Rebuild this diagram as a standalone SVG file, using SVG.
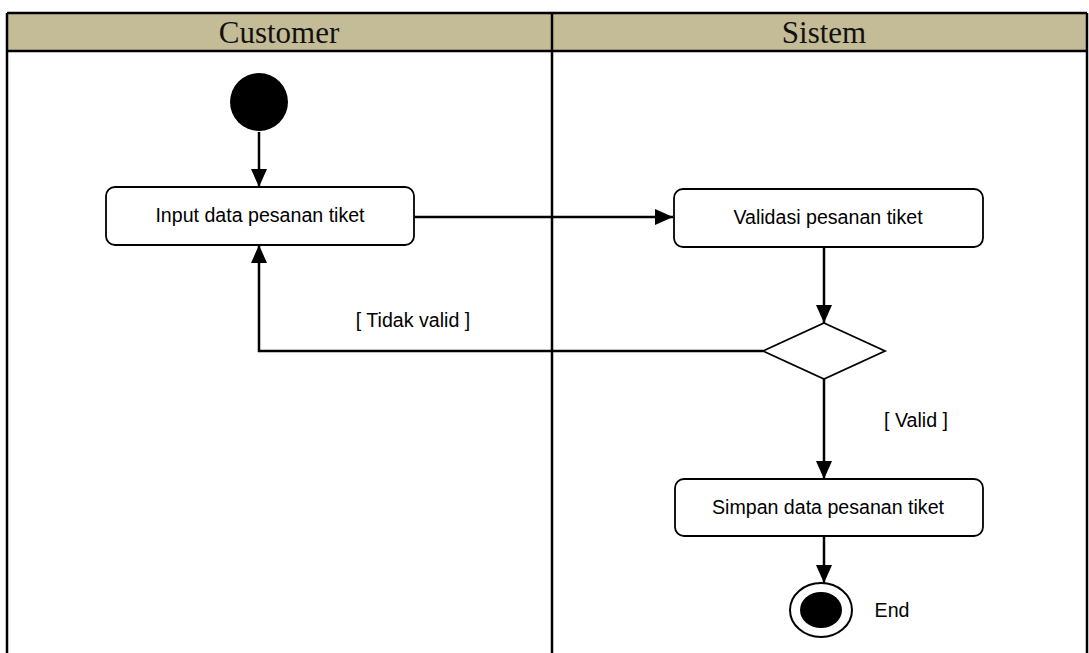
<svg xmlns="http://www.w3.org/2000/svg" width="1089" height="653" viewBox="0 0 1089 653">
<defs>
<style>
.lane{fill:none;stroke:#000;stroke-width:2.5}
.hdr{font-family:"Liberation Serif","Times New Roman",serif;font-size:31px;fill:#111;text-anchor:middle}
.act{fill:#fff;stroke:#000;stroke-width:1.8}
.lbl{font-family:"Liberation Sans",Arial,sans-serif;font-size:19.6px;fill:#000;text-anchor:middle}
.con{fill:none;stroke:#000;stroke-width:2.5}
</style>
<marker id="arrB" viewBox="0 0 18 16" refX="18" refY="8" markerWidth="18" markerHeight="16" orient="auto" markerUnits="userSpaceOnUse">
<path d="M0,0 L18,8 L0,16 Z" fill="#000"/>
</marker>
</defs>
<rect x="0" y="0" width="1089" height="653" fill="#fff"/>
<g id="lanes">
<rect x="7" y="13" width="1080" height="38" fill="#C4BC96"/>
<line class="lane" x1="7" y1="13" x2="1087" y2="13"/>
<line class="lane" x1="7" y1="51" x2="1087" y2="51"/>
<line class="lane" x1="7" y1="13" x2="7" y2="653"/>
<line class="lane" x1="552" y1="13" x2="552" y2="653"/>
<line class="lane" x1="1087" y1="13" x2="1087" y2="653"/>
<text class="hdr" x="279" y="43">Customer</text>
<text class="hdr" x="824" y="43">Sistem</text>
</g>
<g id="connectors">
<line class="con" x1="259" y1="132" x2="259" y2="187" marker-end="url(#arrB)"/>
<line class="con" x1="414" y1="217" x2="673" y2="217" marker-end="url(#arrB)"/>
<line class="con" x1="824" y1="247" x2="824" y2="323" marker-end="url(#arrB)"/>
<polyline class="con" points="763,351 259,351 259,245" marker-end="url(#arrB)"/>
<line class="con" x1="824" y1="379" x2="824" y2="479" marker-end="url(#arrB)"/>
<line class="con" x1="824" y1="536" x2="824" y2="583" marker-end="url(#arrB)"/>
<text class="lbl" x="413" y="327">[ Tidak valid ]</text>
<text class="lbl" x="916" y="427">[ Valid ]</text>
</g>
<g id="start">
<circle cx="259" cy="102" r="29" fill="#000"/>
</g>
<g id="input">
<rect class="act" x="106" y="187" width="308" height="58" rx="9"/>
<text class="lbl" x="260" y="222">Input data pesanan tiket</text>
</g>
<g id="validasi">
<rect class="act" x="674" y="189" width="309" height="58" rx="9"/>
<text class="lbl" x="828" y="224">Validasi pesanan tiket</text>
</g>
<g id="decision">
<polygon points="824,323 885,351 824,379 763,351" fill="#fff" stroke="#000" stroke-width="1.8"/>
</g>
<g id="simpan">
<rect class="act" x="675" y="479" width="308" height="57" rx="9"/>
<text class="lbl" x="828" y="514">Simpan data pesanan tiket</text>
</g>
<g id="end">
<ellipse cx="821" cy="610" rx="31" ry="27" fill="#fff" stroke="#000" stroke-width="2"/>
<ellipse cx="821" cy="610" rx="21" ry="18" fill="#000"/>
<text class="lbl" x="892" y="617">End</text>
</g>
</svg>
